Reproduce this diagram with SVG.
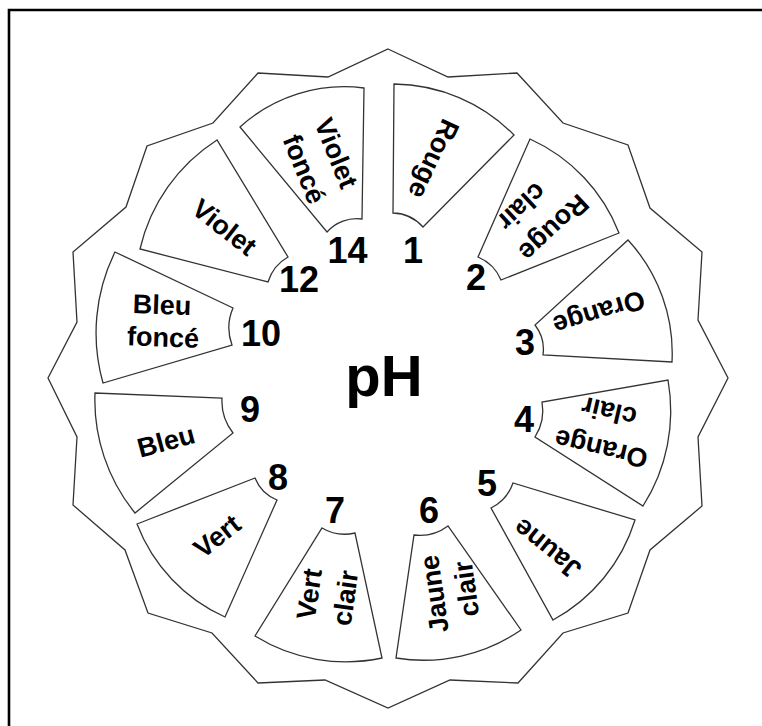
<svg xmlns="http://www.w3.org/2000/svg" width="762" height="726" viewBox="0 0 762 726">
<style>
.frame{fill:none;stroke:#000;stroke-width:2.6}
.star{fill:#fff;stroke:#333;stroke-width:1.3;stroke-linejoin:miter}
.seg{fill:#fff;stroke:#333;stroke-width:1.3}
.lbl{font-family:"Liberation Sans",Arial,sans-serif;font-weight:bold;font-size:27px;text-anchor:middle;fill:#000}
.num{font-family:"Liberation Sans",Arial,sans-serif;font-weight:bold;font-size:36px;text-anchor:middle;fill:#000}
.ph{font-family:"Liberation Sans",Arial,sans-serif;font-weight:bold;font-size:58px;text-anchor:middle;fill:#000}
</style>
<rect x="0" y="0" width="762" height="726" fill="#fff"/>
<path class="frame" d="M9,726 V10 H762"/>
<g id="outline">
<polygon class="star" points="388,49 448,77 517,73 563,123 628,145 650,208 702,252 698,320 728,378 698,437 702,506 650,550 628,613 563,633 518,683 450,680 388,708 325,680 258,683 212,633 148,613 125,550 73,505 77,437 48,378 77,322 73,252 126,207 147,146 213,123 258,73 328,77"/>
</g>
<g id="s1"><path class="seg" d="M394,84 A171,171 0 0 1 514,135 L423,227 A42,42 0 0 0 393,213 Z"/>
<text class="lbl" transform="translate(434,159) rotate(115)" y="9.5">Rouge</text>
<text class="num" x="413" y="263">1</text></g>
<g id="s2"><path class="seg" d="M530,139 A171,171 0 0 1 619,233 L501,280 A43,43 0 0 0 478,257 Z"/>
<text class="lbl" transform="translate(554,228) rotate(137)" y="9.5">Rouge</text>
<text class="lbl" transform="translate(522,207) rotate(137)" y="9.5">clair</text>
<text class="num" x="476" y="290">2</text></g>
<g id="s3"><path class="seg" d="M628,240 A167,167 0 0 1 672,362 L543,355 A40,40 0 0 0 535,325 Z"/>
<text class="lbl" transform="translate(599,313) rotate(163)" y="9.5">Orange</text>
<text class="num" x="525" y="355">3</text></g>
<g id="s4"><path class="seg" d="M668,380 A177,177 0 0 1 643,506 L535,437 A49,49 0 0 0 542,402 Z"/>
<text class="lbl" transform="translate(601,449) rotate(193)" y="9.5">Orange</text>
<text class="lbl" transform="translate(609,412) rotate(193)" y="9.5">clair</text>
<text class="num" x="524" y="432">4</text></g>
<g id="s5"><path class="seg" d="M635,520 A172,172 0 0 1 553,620 L491,508 A44,44 0 0 0 513,483 Z"/>
<text class="lbl" transform="translate(547,549) rotate(219)" y="9.5">Jaune</text>
<text class="num" x="487" y="496">5</text></g>
<g id="s6"><path class="seg" d="M521,630 A172,172 0 0 1 396,658 L414,535 A47,47 0 0 0 448,526 Z"/>
<text class="lbl" transform="translate(434,594) rotate(262)" y="9.5">Jaune</text>
<text class="lbl" transform="translate(466,589) rotate(262)" y="9.5">clair</text>
<text class="num" x="429" y="523">6</text></g>
<g id="s7"><path class="seg" d="M382,658 A173,173 0 0 1 255,636 L322,528 A45,45 0 0 0 355,533 Z"/>
<text class="lbl" transform="translate(309,594) rotate(-82)" y="9.5">Vert</text>
<text class="lbl" transform="translate(345,598) rotate(-82)" y="9.5">clair</text>
<text class="num" x="335" y="523">7</text></g>
<g id="s8"><path class="seg" d="M225,617 A168,168 0 0 1 137,524 L255,478 A40,40 0 0 0 277,500 Z"/>
<text class="lbl" transform="translate(217,536) rotate(-38)" y="9.5">Vert</text>
<text class="num" x="278" y="490">8</text></g>
<g id="s9"><path class="seg" d="M135,513 A179,179 0 0 1 95,393 L222,398 A52,52 0 0 0 233,433 Z"/>
<text class="lbl" transform="translate(166,441) rotate(-15)" y="9.5">Bleu</text>
<text class="num" x="250" y="422">9</text></g>
<g id="s10"><path class="seg" d="M103,383 A183,183 0 0 1 115,252 L233,308 A50,50 0 0 0 232,345 Z"/>
<text class="lbl" transform="translate(162,304.5) rotate(2)" y="9.5">Bleu</text>
<text class="lbl" transform="translate(163,337) rotate(2)" y="9.5">foncé</text>
<text class="num" x="261" y="346">10</text></g>
<g id="s12"><path class="seg" d="M140,249 A177,177 0 0 1 217,140 L288,257 A43,43 0 0 0 268,282 Z"/>
<text class="lbl" transform="translate(224.5,227) rotate(38)" y="9.5">Violet</text>
<text class="num" x="299" y="292">12</text></g>
<g id="s14"><path class="seg" d="M240,127 A155,155 0 0 1 364,88 L362,219 A40,40 0 0 0 327,232 Z"/>
<text class="lbl" transform="translate(336.5,153) rotate(68)" y="9.5">Violet</text>
<text class="lbl" transform="translate(304.5,169) rotate(68)" y="9.5">foncé</text>
<text class="num" x="347.5" y="263">14</text></g>
<g id="center"><text class="ph" x="384" y="396">pH</text></g>
</svg>
